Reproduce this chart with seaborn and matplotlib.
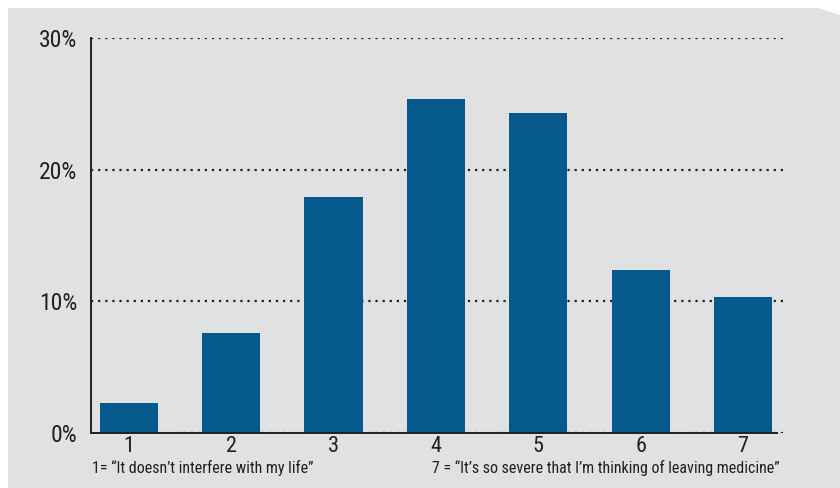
import matplotlib
matplotlib.use("Agg")

import matplotlib.pyplot as plt
import seaborn as sns
import pandas as pd
from matplotlib.patches import Polygon
from matplotlib import font_manager

sns.set_style("white")

# condensed face if one is installed
names = {f.name for f in font_manager.fontManager.ttflist}
narrow = [n for n in ["Liberation Sans Narrow", "Roboto Condensed",
                      "DejaVu Sans Condensed", "Open Sans Condensed"] if n in names]
plt.rcParams['font.family'] = narrow + ['Liberation Sans', 'DejaVu Sans']
plt.rcParams['font.stretch'] = 'condensed'
condensed = len(narrow) > 0

# data
levels = ["1", "2", "3", "4", "5", "6", "7"]
shares = [2.3, 7.6, 17.9, 25.4, 24.3, 12.4, 10.3]
y_ticks = [0, 10, 20, 30]
y_tick_labels = ["0%", "10%", "20%", "30%"]
note_left = "1= \u201cIt doesn\u2019t interfere with my life\u201d"
note_right = "7 = \u201cIt\u2019s so severe that I\u2019m thinking of leaving medicine\u201d"

df = pd.DataFrame({"level": levels, "share": shares})

bg = "#e0e1e3"
bar_color = "#06598d"
ink = "#231f20"

fig = plt.figure(figsize=(8.4, 4.88), dpi=100)
fig.patch.set_facecolor("white")

# gray panel with the clipped top-right corner
W, H = 840, 488
panel = [(8, 8), (818, 8), (840, 15), (840, 488), (8, 488)]
panel = [(x / W, 1 - y / H) for x, y in panel]
fig.patches.append(Polygon(panel, closed=True, transform=fig.transFigure,
                           facecolor=bg, edgecolor="none", zorder=-5))

ax = fig.add_axes([91 / W, 1 - 433 / H, (785 - 91) / W, (433 - 38) / H])
ax.set_zorder(2)
ax.patch.set_alpha(0)

sns.barplot(data=df, x="level", y="share", color=bar_color,
            width=0.57, saturation=1, linewidth=0, edgecolor="none",
            ax=ax, zorder=3)

ax.set_xlim(-0.37, 6.41)
ax.set_ylim(0, 30)

tick_size = 17 if condensed else 15
ax.set_yticks(y_ticks)
ax.set_yticklabels(y_tick_labels, fontsize=tick_size, color=ink)
ax.tick_params(axis="y", length=0, pad=10)
ax.tick_params(axis="x", length=0, pad=2, labelsize=tick_size - 1, labelcolor=ink)

ax.yaxis.grid(True, color=ink, linestyle=(0, (1, 2.2)), linewidth=1.6)
ax.xaxis.grid(False)

for side in ["top", "right"]:
    ax.spines[side].set_visible(False)
for side in ["left", "bottom"]:
    ax.spines[side].set_color(ink)
    ax.spines[side].set_linewidth(1.4)
    ax.spines[side].set_zorder(4)
ax.spines["bottom"].set_bounds(-0.37, 6.33)

ax.set_xlabel("")
ax.set_ylabel("")

note_size = 11.5 if condensed else 9.5
fig.text(92 / W, 1 - 468 / H, note_left, fontsize=note_size, color=ink,
         ha="left", va="center")
fig.text(780 / W, 1 - 468 / H, note_right, fontsize=note_size, color=ink,
         ha="right", va="center")

plt.savefig("out.png", dpi=100, facecolor=fig.get_facecolor())
plt.close()
